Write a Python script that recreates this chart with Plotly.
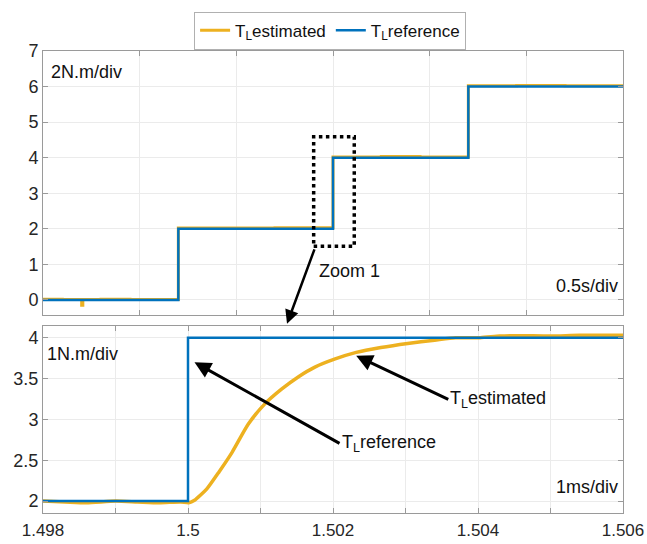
import plotly.graph_objects as go
from plotly.subplots import make_subplots

# ---------------- data ----------------
# Top panel (0.5 s/div)
t_top_ref = [0.0, 0.70, 1.50, 2.20, 3.0]
TL_ref_top = [0, 2, 4, 6, 6]

t_top_est = [0.0, 0.10, 0.19, 0.200, 0.206, 0.30, 0.45, 0.70, 0.95, 1.20, 1.50, 1.75, 1.95, 2.20, 2.45, 2.70, 3.0]
TL_est_top = [0.02, 0.01, 0.01, -0.15, 0.01, 0.02, 0.01, 2.02, 2.02, 2.03, 4.02, 4.03, 4.02, 6.02, 6.03, 6.02, 6.02]

# Bottom panel, zoom 1 (1 ms/div)
t_zoom_ref = [1.498, 1.500, 1.506]
TL_ref_zoom = [2, 4, 4]

t_zoom_est = [1.4980, 1.4983, 1.4986, 1.4990, 1.4993, 1.4996, 1.49990, 1.50001,
              1.50009, 1.50026, 1.50043, 1.50061, 1.50083, 1.50106, 1.50129,
              1.50152, 1.50175, 1.50203, 1.50232, 1.50266, 1.50303, 1.50340,
              1.50369, 1.50403, 1.50430, 1.50455, 1.50500, 1.50540, 1.50600]
TL_est_zoom = [2.00, 1.99, 1.98, 2.00, 1.99, 1.98, 1.99, 1.98,
               2.01, 2.15, 2.36, 2.60, 2.94, 3.19, 3.37,
               3.52, 3.64, 3.74, 3.82, 3.88, 3.93, 3.97,
               4.00, 4.00, 4.02, 4.025, 4.02, 4.03, 4.03]

# tick labels
top_y_ticks = [0, 1, 2, 3, 4, 5, 6, 7]
top_x_ticks = [0, 0.5, 1.0, 1.5, 2.0, 2.5, 3.0]
zoom_y_ticks = [2, 2.5, 3, 3.5, 4]
zoom_y_text = ["2", "2.5", "3", "3.5", "4"]
zoom_x_ticks = [1.498, 1.500, 1.502, 1.504, 1.506]
zoom_x_text = ["1.498", "1.5", "1.502", "1.504", "1.506"]

# ---------------- style ----------------
YEL = "#EDB120"
BLU = "#0072BD"
FONT = "Liberation Sans, Arial, sans-serif"
AX = "#9a9a9a"
GRID = "#ebebeb"

fig = make_subplots(rows=2, cols=1)

fig.add_trace(go.Scatter(x=t_top_est, y=TL_est_top, mode="lines", line=dict(color=YEL, width=3, shape="hv"),
                         name="T<sub>L</sub>estimated"), row=1, col=1)
fig.add_trace(go.Scatter(x=t_top_ref, y=TL_ref_top, mode="lines", line=dict(color=BLU, width=2.5, shape="hv"),
                         name="T<sub>L</sub>reference"), row=1, col=1)
fig.add_trace(go.Scatter(x=t_zoom_est, y=TL_est_zoom, mode="lines", line=dict(color=YEL, width=3.5, shape="spline", smoothing=0.6),
                         showlegend=False), row=2, col=1)
fig.add_trace(go.Scatter(x=t_zoom_ref, y=TL_ref_zoom, mode="lines", line=dict(color=BLU, width=2.5, shape="hv"),
                         showlegend=False), row=2, col=1)

axis_common = dict(showline=True, linecolor=AX, linewidth=1, mirror="ticks", ticks="inside",
                   tickcolor=AX, ticklen=5, showgrid=True, gridcolor=GRID, gridwidth=1,
                   zeroline=False, automargin=False,
                   tickfont=dict(family=FONT, size=18, color="#262626"))

fig.update_layout(
    width=647, height=544,
    margin=dict(l=43, r=24, t=49, b=31),
    paper_bgcolor="white", plot_bgcolor="white",
    font=dict(family=FONT, size=17, color="#111"),
    xaxis=dict(domain=[0, 1], range=[0, 3], tickvals=top_x_ticks, showticklabels=False, **axis_common),
    yaxis=dict(domain=[0.4289, 1], range=[-0.42, 7], tickvals=top_y_ticks, **axis_common),
    xaxis2=dict(domain=[0, 1], range=[1.498, 1.506], tickvals=zoom_x_ticks, ticktext=zoom_x_text,
                ticklabelstandoff=2,
                minor=dict(dtick=0.001, tick0=1.498, ticks="inside", ticklen=5, tickcolor=AX,
                           showgrid=True, gridcolor=GRID, gridwidth=1),
                **axis_common),
    yaxis2=dict(domain=[0, 0.4052], range=[1.854, 4.146], tickvals=zoom_y_ticks, ticktext=zoom_y_text, **axis_common),
    legend=dict(orientation="h", x=0.495, xanchor="center", y=1.003, yanchor="bottom",
                bordercolor="#b0b0b0", borderwidth=1, bgcolor="white",
                font=dict(family=FONT, size=17, color="#111"), itemwidth=30,
                tracegroupgap=0),
    showlegend=True,
)
fig.update_xaxes(tickfont=dict(size=17), row=2, col=1)

# zoom window rectangle
fig.add_shape(type="rect", xref="x", yref="y", x0=1.40, x1=1.61, y0=1.51, y1=4.59,
              line=dict(color="black", width=3.5, dash="dot"))

ann = []
tf = dict(family=FONT, size=18, color="#111")
# unit labels
ann.append(dict(xref="x domain", yref="y domain", x=0.01, y=0.92, text="2N.m/div", showarrow=False,
                xanchor="left", yanchor="middle", font=tf))
ann.append(dict(xref="x domain", yref="y domain", x=0.995, y=0.11, text="0.5s/div", showarrow=False,
                xanchor="right", yanchor="middle", font=tf))
ann.append(dict(xref="x2 domain", yref="y2 domain", x=0.003, y=0.85, text="1N.m/div", showarrow=False,
                xanchor="left", yanchor="middle", font=tf))
ann.append(dict(xref="x2 domain", yref="y2 domain", x=0.995, y=0.14, text="1ms/div", showarrow=False,
                xanchor="right", yanchor="middle", font=tf))
# Zoom 1 label and arrow to the zoom panel
ann.append(dict(xref="x", yref="y", x=1.415, y=0.82, text="Zoom 1", showarrow=False,
                xanchor="left", yanchor="middle", font=tf))
ann.append(dict(xref="paper", yref="paper", x=0.4207, y=0.4095, axref="pixel", ayref="pixel",
                ax=28, ay=-76, text="", showarrow=True, arrowhead=2, arrowsize=1.1,
                arrowwidth=2.5, arrowcolor="black"))
# T_L reference arrow
ann.append(dict(xref="x2", yref="y2", x=1.50009, y=3.70, axref="x2", ayref="y2",
                ax=1.50209, ay=2.707, text="T<sub>L</sub>reference", xanchor="left", yanchor="middle",
                showarrow=True, arrowhead=2, arrowsize=1.1,
                arrowwidth=3, arrowcolor="black", font=tf))
# T_L estimated arrow
ann.append(dict(xref="x2", yref="y2", x=1.50232, y=3.78, axref="x2", ayref="y2",
                ax=1.50359, ay=3.244, text="T<sub>L</sub>estimated", xanchor="left", yanchor="middle",
                showarrow=True, arrowhead=2, arrowsize=1.1,
                arrowwidth=3, arrowcolor="black", font=tf))

fig.update_layout(annotations=ann)

fig.write_html("out.html")
